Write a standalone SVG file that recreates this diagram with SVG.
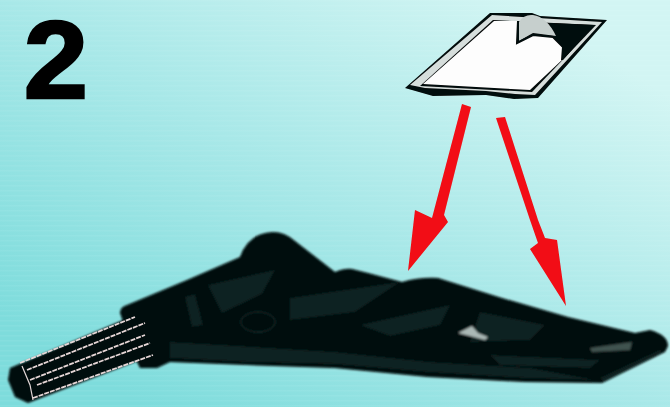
<svg xmlns="http://www.w3.org/2000/svg" width="670" height="407" viewBox="0 0 670 407">
<style>
.k{fill:#040808}.t{fill:#0a2221}.r{fill:#f20a12}
.g{fill:none;stroke:#e6d6d6;stroke-width:1.8;stroke-dasharray:5 1}
.n{font-family:"Liberation Sans",Arial,sans-serif;font-weight:700;font-size:109px;fill:#000;stroke:#000;stroke-width:2.5}
</style>
<defs>
<linearGradient id="bg" gradientUnits="userSpaceOnUse" x1="180" y1="430" x2="470" y2="-30">
<stop offset="0" stop-color="#7edcdc"/><stop offset=".5" stop-color="#a8e8e8"/><stop offset="1" stop-color="#d2f5f3"/>
</linearGradient>
<pattern id="st" width="8" height="5" patternUnits="userSpaceOnUse"><rect width="8" height="1.5" fill="#fff" opacity=".05"/></pattern>
<filter id="b" x="-5%" y="-5%" width="110%" height="110%"><feGaussianBlur stdDeviation="1"/></filter>
<filter id="s" x="-5%" y="-5%" width="110%" height="110%"><feGaussianBlur stdDeviation=".6"/></filter>
</defs>
<rect width="670" height="407" fill="url(#bg)"/>
<rect width="670" height="407" fill="url(#st)"/>
<g id="step-number" filter="url(#s)"><text class="n" x="50" y="98" text-anchor="middle" transform="translate(3 0) scale(1.06 1)">2</text></g>
<g id="sticker" filter="url(#s)">
<polygon class="k" points="490,13 532,13 540,16 607,20 538,98 514,99 486,95 433,96 405,88"/>
<polygon fill="#d6dedc" points="492,15 602,22 535,95 515,94 486,91 425,88 410,85"/>
<polygon class="k" points="493,20 596,25 532,92 420,86"/>
<polygon fill="#fdfdfd" points="494,21 517,21 517,43 533,35 553,37 563,47 562,60 530,90 423,84"/>
<polygon class="k" points="550,23 594,25 563,60 562,47"/>
<path fill="#c6cfcd" d="M519,22 Q524,14 533,15 Q547,17 556,36 L533,33 L519,41 Z"/>
<path fill="none" stroke="#040808" stroke-width="2" d="M518,21 L517,43 L533,35 L553,37 L563,47 L562,60"/>
</g>
<g id="arrows" filter="url(#s)">
<polygon class="r" points="462,104 471,107 444,215 448,222 408,271 415,210 432,218"/>
<polygon class="r" points="496,118 505,117 538,220 545,238 557,240 566,306 530,249 538,243 530,220"/>
</g>
<g id="part" filter="url(#b)">
<path class="k" d="M120,313 Q120,307 127,305 L187,280 L240,257 Q248,233 273,232 Q285,232 295,241 L335,272 Q345,268 352,269 L368,273 L402,282 Q420,277 438,278 L502,298 L568,317 L635,333 L650,330 Q668,335 668,346 L665,352 L602,383 L525,382 L428,377 L335,368 L247,365 L170,362 L157,368 L140,368 L137,362 Z"/>
<polygon class="t" points="170,342 240,346 335,352 430,362 530,368 596,380 525,378 428,372 335,364 247,362 170,358"/>
<polygon class="t" points="208,285 275,270 262,294 222,313"/>
<polygon class="t" points="290,298 400,282 355,312 290,320"/>
<polygon class="t" points="480,312 545,325 530,340 470,342"/>
<polygon class="t" points="360,325 450,305 440,325 390,336"/>
<polygon class="t" points="490,355 600,360 590,368 500,365"/>
<polygon class="t" points="600,378 660,350 662,352 604,382"/>
<polygon class="t" points="185,297 195,294 203,325 192,327"/>
<ellipse cx="258" cy="322" rx="17" ry="10" fill="none" stroke="#0a2221" stroke-width="2"/>
<polygon fill="#3f5250" points="590,348 632,342 630,350 592,352"/>
<polygon fill="#aab8b6" points="458,333 472,326 478,333 488,337 485,340 470,336"/>
<polygon class="k" points="10,368 135,315 153,355 28,403 15,397 8,380"/>
</g>
<g id="rod-lines" filter="url(#s)">
<path class="g" d="M20,363L135,317M27,370L145,323M30,380L145,335M37,385L150,343M33,398L153,355"/>
<path fill="none" stroke="#e4d8d8" stroke-width="1.2" d="M22,366L30,385L33,400"/>
</g>
</svg>
